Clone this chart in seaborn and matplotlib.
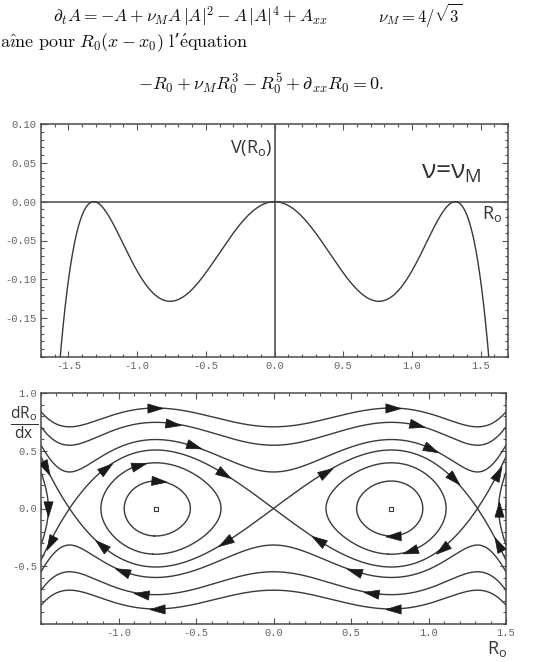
import numpy as np
import matplotlib
matplotlib.use("Agg")
import matplotlib.pyplot as plt
import seaborn as sns
from matplotlib.markers import MarkerStyle
from matplotlib.path import Path
from matplotlib.transforms import Affine2D
from matplotlib.ticker import MultipleLocator, FixedLocator
from contourpy import contour_generator

# ---------------- data ----------------
nu_M = 4 / np.sqrt(3)                     # Maxwell point, from the text
top_R_range = [-1.7, 1.7]
top_V_range = [-0.2, 0.1]
top_xticks = [-1.5, -1.0, -0.5, 0.0, 0.5, 1.0, 1.5]
top_yticks = [-0.15, -0.10, -0.05, 0.00, 0.05, 0.10]

bot_R_range = [-1.5, 1.5]
bot_P_range = [-1.0, 1.0]
bot_xticks = [-1.0, -0.5, 0.0, 0.5, 1.0, 1.5]
bot_yticks = [-0.5, 0.0, 0.5, 1.0]

# energy levels E = P^2/2 + V(R) of the drawn trajectories
energy_levels = [-0.10, -0.05, 0.0, 0.05, 0.15, 0.25]
center_R = [-0.76, 0.76]

# arrowheads: position R, energy level, branch (+1 upper, -1 lower)
arrow_R = [-0.763, 0.768, -0.65, 0.926, -0.514, 1.017, -0.32, 1.165,
           -1.08, 0.337, -0.865, -0.74, 1.448, -1.466, 1.452, -1.452,
           -1.445, -1.115, -0.31, 0.29, 1.085, 1.448, 0.768, 0.88,
           -0.978, 0.518, -0.854, 0.632, -0.752, 0.773]
arrow_E = [0.25, 0.25, 0.15, 0.15, 0.05, 0.05, 0.0, 0.0,
           0.0, 0.0, -0.05, -0.10, 0.0, 0.0, -0.05, -0.05,
           0.0, 0.0, 0.0, 0.0, 0.0, 0.0, -0.10, -0.05,
           0.05, 0.05, 0.15, 0.15, 0.25, 0.25]
arrow_side = [1, 1, 1, 1, 1, 1, 1, 1,
              1, 1, 1, 1, 1, 1, 1, -1,
              -1, -1, -1, -1, -1, -1, -1, -1,
              -1, -1, -1, -1, -1, -1]


def V(R):
    return -R**2 / 2 + nu_M * R**4 / 4 - R**6 / 6


def force(R):
    return R - nu_M * R**3 + R**5


# ---------------- style ----------------
sns.set_theme(style="ticks")
plt.rcParams.update({
    "font.family": ["Open Sans", "DejaVu Sans"],
    "mathtext.fontset": "custom",
    "mathtext.rm": "Open Sans",
    "mathtext.it": "Open Sans:italic",
    "mathtext.bf": "Open Sans:bold",
    "mathtext.sf": "Open Sans",
    "axes.unicode_minus": False,
    "axes.edgecolor": "#4a4a4a",
    "axes.linewidth": 1.1,
})

LINE = "#3a3a3a"
TICKC = "#666666"

fig = plt.figure(figsize=(5.5, 6.62), dpi=100)
W, H = 550, 662


def axes_px(l, t, r, b):
    return fig.add_axes([l / W, 1 - b / H, (r - l) / W, (b - t) / H])


ax1 = axes_px(41, 124, 508, 357)
ax2 = axes_px(41, 393, 506, 624)


def style_ax(ax, xt, yt, xfmt, yfmt):
    ax.xaxis.set_major_locator(FixedLocator(xt))
    ax.yaxis.set_major_locator(FixedLocator(yt))
    ax.xaxis.set_minor_locator(MultipleLocator(0.1))
    ax.set_xticklabels([xfmt.format(v) for v in xt])
    ax.set_yticklabels([yfmt.format(v) for v in yt])
    ax.tick_params(which="both", direction="in", top=True, right=True,
                   color="#555555", width=0.8)
    ax.tick_params(which="major", length=4.5, labelsize=7.6,
                   labelcolor=TICKC, pad=3, labelfontfamily="Liberation Mono")
    ax.tick_params(which="minor", length=2.5)
    ax.set_xlabel("")
    ax.set_ylabel("")


# ---------------- top: potential ----------------
Rt = np.linspace(top_R_range[0], top_R_range[1], 1200)
ax1.axhline(0, color="#555555", lw=1.2, zorder=1)
ax1.axvline(0, color="#555555", lw=1.2, zorder=1)
sns.lineplot(x=Rt, y=V(Rt), ax=ax1, color=LINE, lw=1.0, sort=False,
             estimator=None, zorder=2)
ax1.set_xlim(top_R_range)
ax1.set_ylim(top_V_range)
style_ax(ax1, top_xticks, top_yticks, "{:.1f}", "{:.2f}")
ax1.yaxis.set_minor_locator(MultipleLocator(0.01))

ax1.text(-0.015, 0.069, "V(R$_\\mathregular{o}$)", ha="right", va="center",
         fontsize=13, color="#333333")
ax1.text(1.285, 0.038, "ν=ν$_\\mathregular{M}$", ha="center", va="center",
         fontsize=19, color="#333333")
ax1.text(1.583, -0.016, "R$_\\mathregular{o}$", ha="center", va="center",
         fontsize=13, color="#333333")

# ---------------- bottom: phase portrait ----------------
Rg = np.linspace(bot_R_range[0], bot_R_range[1], 901)
Pg = np.linspace(bot_P_range[0], bot_P_range[1], 801)
RR, PP = np.meshgrid(Rg, Pg)
EE = PP**2 / 2 + V(RR)
gen = contour_generator(Rg, Pg, EE)
for lev in energy_levels:
    for seg in gen.lines(lev):
        if len(seg) < 2:
            continue
        sns.lineplot(x=seg[:, 0], y=seg[:, 1], ax=ax2, color=LINE, lw=1.0,
                     sort=False, estimator=None, zorder=2)

ax2.set_xlim(bot_R_range)
ax2.set_ylim(bot_P_range)
style_ax(ax2, bot_xticks, bot_yticks, "{:.1f}", "{:.1f}")
ax2.yaxis.set_minor_locator(MultipleLocator(0.1))

sns.scatterplot(x=center_R, y=[0.0] * len(center_R), ax=ax2, marker="s",
                s=6, facecolor="white", edgecolor=LINE, linewidth=0.8,
                zorder=3)

arrow_path = Path([(-1, -0.6), (1, 0), (-1, 0.6), (-1, -0.6)],
                  [Path.MOVETO, Path.LINETO, Path.LINETO, Path.CLOSEPOLY])
for R, E, s in zip(arrow_R, arrow_E, arrow_side):
    P = s * np.sqrt(max(2 * (E - V(R)), 0.0))
    d = np.array([P, force(R)])
    d = d / np.hypot(*d)
    p0 = ax2.transData.transform((R, P))
    p1 = ax2.transData.transform((R + 1e-3 * d[0], P + 1e-3 * d[1]))
    ang = np.degrees(np.arctan2(p1[1] - p0[1], p1[0] - p0[0]))
    m = MarkerStyle(arrow_path, transform=Affine2D().rotate_deg(ang))
    ax2.plot([R], [P], marker=m, ms=11, color="#1a1a1a", mec="#1a1a1a",
             mew=0.5, ls="none", zorder=4)

fig.text(24 / W, 1 - 423 / H,
         r"$\frac{\mathrm{dR}_{\mathrm{o}}}{\mathrm{dx}}$",
         ha="center", va="center", fontsize=16, color="#333333")
fig.text(497 / W, 1 - 649 / H, "R$_\\mathregular{o}$", ha="center",
         va="center", fontsize=13, color="#333333")

# ---------------- page text (equations) ----------------
fig.text(53 / W, 1 - 22 / H,
         r"$\partial_t A = -A + \nu_M A\,|A|^2 - A\,|A|^4 + A_{xx}$",
         math_fontfamily="cm", fontsize=12.5, va="baseline", ha="left",
         color="#111111")
fig.text(378 / W, 1 - 22 / H, r"$\nu_M = 4/\sqrt{3}$",
         math_fontfamily="cm", fontsize=12, va="baseline", ha="left",
         color="#111111")
fig.text(0.0, 1 - 43 / H,
         r"$\mathrm{a\hat{\imath}ne\ pour}\ R_0(x - x_0)\ \mathrm{l}$"
         "\u2019"
         r"$\mathrm{\acute{e}quation}$",
         family=["DejaVu Serif"], math_fontfamily="cm",
         fontsize=13, va="center", ha="left", color="#111111")
fig.text(261 / W, 1 - 84 / H,
         r"$-R_0 + \nu_M R_0^3 - R_0^5 + \partial_{xx} R_0 = 0.$",
         math_fontfamily="cm", fontsize=13, va="center", ha="center",
         color="#111111")

fig.savefig("out.png", dpi=100, facecolor="white")
